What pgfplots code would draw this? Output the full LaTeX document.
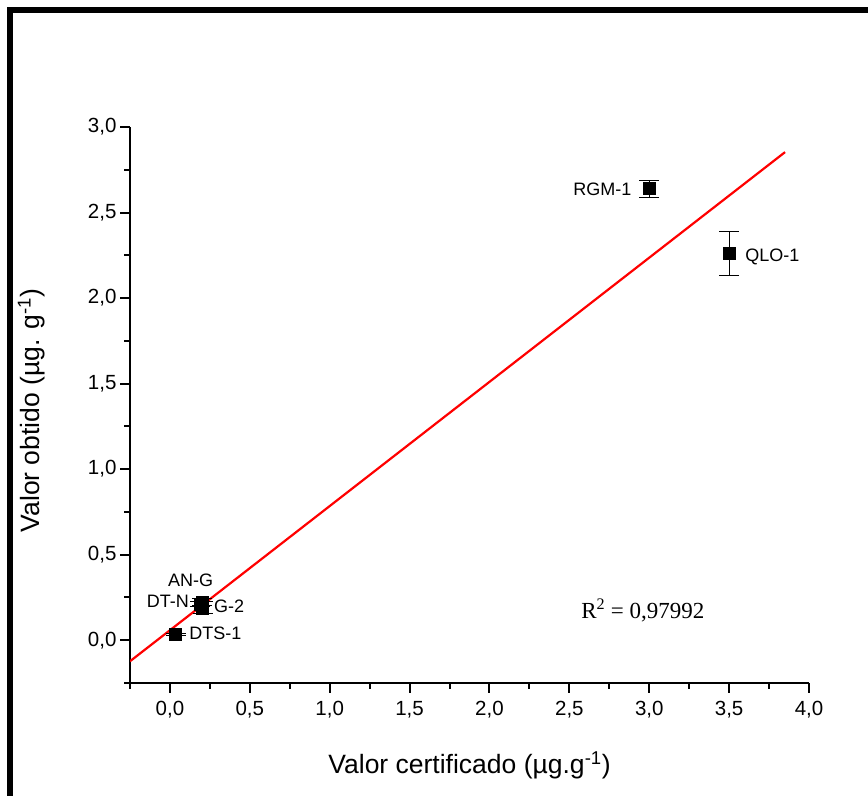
\documentclass[border=0pt]{standalone}
\usepackage{fontspec}
\setmainfont{Liberation Sans}
\newfontfamily\timesfont{Liberation Serif}
\usepackage{pgfplots}
\pgfplotsset{compat=1.18}
\usepackage{pgfplotstable}

% certified vs obtained, with error in y
\pgfplotstableread{
x     y      ey
0.035 0.033  0.008
0.200 0.225  0.020
0.190 0.210  0.015
0.205 0.190  0.035
3.000 2.640  0.050
3.500 2.260  0.130
}\samples

\begin{document}
\begin{tikzpicture}[x=1bp,y=1bp]
\path[use as bounding box] (0,0) rectangle (868,796);
% frame (cropped figure border)
\draw[line width=6bp] (10,0) -- (10,786) -- (868,786);

\begin{axis}[
  at={(130bp,113bp)}, anchor=south west,
  scale only axis,
  width=679bp, height=556bp,
  xmin=-0.25, xmax=4, ymin=-0.25, ymax=3,
  axis x line*=bottom, axis y line*=left,
  axis line style={line width=2bp},
  xtick={0,0.5,...,4}, ytick={0,0.5,...,3},
  minor xtick={-0.25,0.25,0.75,...,3.75},
  minor ytick={-0.25,0.25,0.75,...,2.75},
  tick align=outside,
  major tick length=10bp, minor tick length=6bp,
  every tick/.style={line width=2bp, black},
  tick label style={font=\fontsize{20.5bp}{24bp}\selectfont},
  xticklabel style={yshift=-5bp},
  /pgf/number format/.cd, use comma, fixed, fixed zerofill, precision=1, assume math mode=true,
  /pgfplots/.cd,
  xlabel={Valor certificado (µg.g\textsuperscript{-1})},
  ylabel={Valor obtido (µg. g\textsuperscript{-1})},
  label style={font=\fontsize{26.5bp}{30bp}\selectfont},
  xlabel style={at={(axis description cs:0.5,-0.1475)}, anchor=center},
  ylabel style={at={(axis description cs:-0.145,0.49)}, anchor=center},
  clip=true,
]
\addplot[red, line width=2.2bp] coordinates {(-0.25,-0.123) (3.85,2.853)};

\addplot[only marks, mark=square*, mark size=6bp, mark options={black, fill=black},
  error bars/.cd, y dir=both, y explicit,
  error bar style={line width=1bp, black},
  error mark options={rotate=90, mark size=10bp, line width=1bp, black}]
  table[x=x, y=y, y error=ey] {\samples};

\begin{scope}[font=\fontsize{18bp}{22bp}\selectfont]
\node at (axis cs:0.13,0.35) {AN-G};
\node[anchor=east, inner sep=0pt] at (axis cs:0.12,0.23) {DT-N};
\node[anchor=west, inner sep=0pt] at (axis cs:0.276,0.2) {G-2};
\node[anchor=west, inner sep=0pt] at (axis cs:0.12,0.04) {DTS-1};
\node[anchor=east, inner sep=0pt] at (axis cs:2.89,2.636) {RGM-1};
\node[anchor=west, inner sep=0pt] at (axis cs:3.6,2.24) {QLO-1};
\end{scope}
\node[font=\timesfont\fontsize{23bp}{27bp}\selectfont] at (axis cs:2.96,0.176) {R\textsuperscript{2} = 0,97992};
\end{axis}
\end{tikzpicture}
\end{document}
